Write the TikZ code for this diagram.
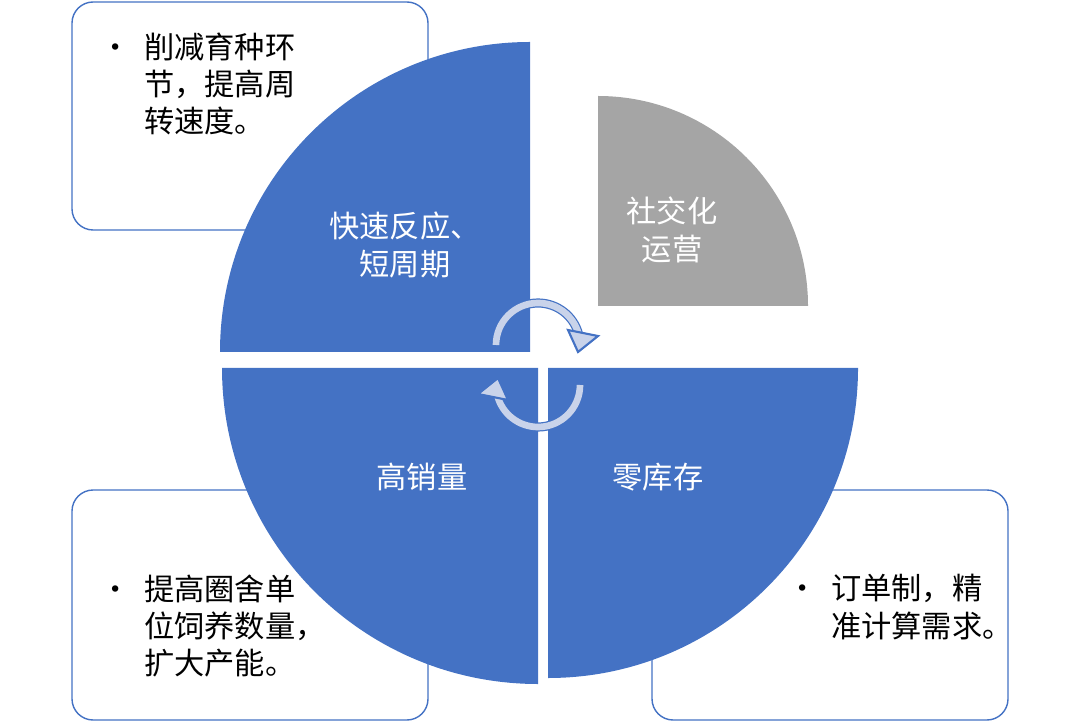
\documentclass[tikz,border=0pt]{standalone}
\usepackage{fontspec}
\setmainfont{Noto Sans CJK SC}
\usetikzlibrary{arrows.meta}
\definecolor{pieblue}{HTML}{4472C4}
\definecolor{piegrey}{HTML}{A5A5A5}
\definecolor{arrowfill}{HTML}{C9D3EA}
\tikzset{
  notebox/.style={draw=pieblue,line width=0.4pt,fill=white,rounded corners=6pt},
  notetext/.style={anchor=north west,align=left,font=\fontsize{8.6}{10.6}\selectfont},
  pietext/.style={text=white,align=center,font=\fontsize{8.6}{10.6}\selectfont},
  cycleline/.style={line width=2.6pt,pieblue},
  cyclefill/.style={line width=1.9pt,arrowfill},
}
\begin{document}
\begin{tikzpicture}[x=0.01cm,y=-0.01cm]
  \useasboundingbox (0,0) rectangle (1080,722);
  % side notes
  \draw[notebox] (72,2) rectangle (428,230);
  \draw[notebox] (72,490) rectangle (428,720);
  \draw[notebox] (652,490) rectangle (1008,720);
  \node[notetext] (n1) at (88,20) {•\ \ 削减育种环\\\phantom{•\ \ }节，提高周\\\phantom{•\ \ }转速度。};
  \node[notetext] (n2) at (88,562) {•\ \ 提高圈舍单\\\phantom{•\ \ }位饲养数量，\\\phantom{•\ \ }扩大产能。};
  \node[notetext] (n3) at (775,562) {•\ \ 订单制，精\\\phantom{•\ \ }准计算需求。};
  % quadrants
  \fill[pieblue] (530,352) -- ++(-310,0) arc[start angle=180,end angle=270,radius=310] -- cycle;
  \fill[pieblue] (538,368) -- ++(-316,0) arc[start angle=180,end angle=90,radius=316] -- cycle;
  \fill[pieblue] (548,368) -- ++(310,0) arc[start angle=0,end angle=90,radius=310] -- cycle;
  \fill[piegrey] (598,306) -- ++(210,0) arc[start angle=0,end angle=-90,radius=210] -- cycle;
  \node[pietext] (fast) at (405,245) {快速反应、\\短周期};
  \node[pietext] (social) at (672,230) {社交化\\运营};
  \node[pietext] (sales) at (422,477) {高销量};
  \node[pietext] (stock) at (658,477) {零库存};
  % cycle arrows
  \draw[cycleline] (538,345) ++(180:42) arc[start angle=180,end angle=345,radius=42];
  \draw[cyclefill] (538,345) ++(180:42) arc[start angle=180,end angle=345,radius=42];
  \draw[draw=pieblue,fill=arrowfill,line width=0.6pt] (568,330) -- (598,336) -- (578,352) -- cycle;
  \draw[cycleline] (538,385) ++(0:42) arc[start angle=0,end angle=165,radius=42];
  \draw[cyclefill] (538,385) ++(0:42) arc[start angle=0,end angle=165,radius=42];
  \draw[draw=pieblue,fill=arrowfill,line width=0.6pt] (508,400) -- (478,394) -- (498,378) -- cycle;
\end{tikzpicture}
\end{document}
